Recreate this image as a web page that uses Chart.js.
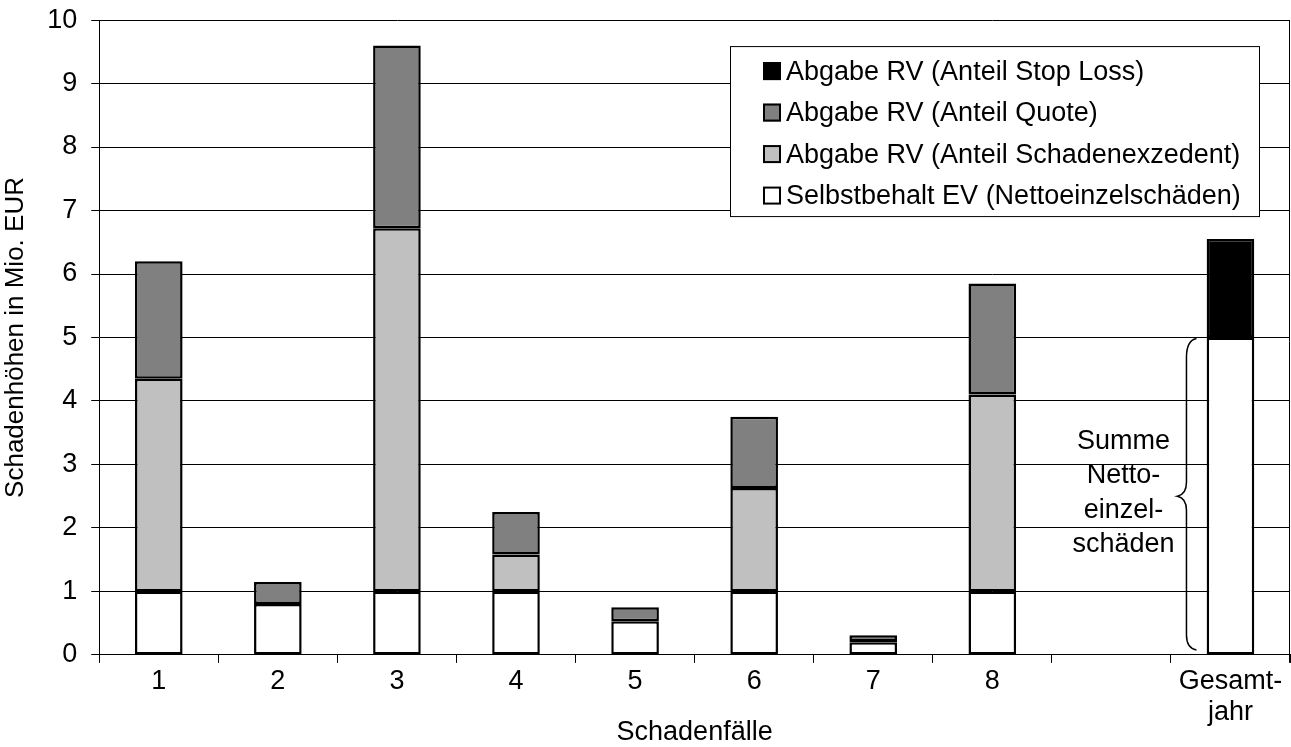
<!DOCTYPE html>
<html lang="de">
<head>
<meta charset="UTF-8">
<title>Schadenfälle</title>
<script src="https://cdn.jsdelivr.net/npm/chart.js"></script>
<style>
  html, body { margin: 0; padding: 0; background: #fff; }
  #wrap { width: 1291px; height: 747px; }
</style>
</head>
<body>
<div id="wrap"><canvas id="chart" width="1291" height="747"></canvas></div>
<script>
// Werte in Mio. EUR
const kategorien = ['1', '2', '3', '4', '5', '6', '7', '8', '', ['Gesamt-', 'jahr']];
const selbstbehalt = [1, 0.8, 1, 1, 0.53, 1, 0.2, 1, null, 5];
const schadenexzedent = [3.35, null, 5.72, 0.58, null, 1.63, 0.02, 3.1, null, null];
const quote = [1.85, 0.35, 2.88, 0.67, 0.22, 1.12, 0.09, 1.75, null, null];
const stopLoss = [null, null, null, null, null, null, null, null, null, 1.55];
const yTicks = [0, 1, 2, 3, 4, 5, 6, 7, 8, 9, 10];
const klammerText = ['Summe', 'Netto-', 'einzel-', 'schäden'];

const schrift = 'Arial, "Liberation Sans", Helvetica, sans-serif';
Chart.defaults.font.family = schrift;
Chart.defaults.font.size = 27;
Chart.defaults.color = '#000';

// Legende im Diagramm (rechts oben, mit Rahmen)
const legendeImDiagramm = {
  id: 'legendeImDiagramm',
  afterDraw(chart) {
    const ctx = chart.ctx;
    const ca = chart.chartArea;
    const x = ca.right - 560, y = ca.top + 26, w = 529, h = 170;
    ctx.save();
    ctx.fillStyle = '#fff';
    ctx.fillRect(x, y, w, h);
    ctx.strokeStyle = '#000';
    ctx.lineWidth = 1;
    ctx.strokeRect(x + 0.5, y + 0.5, w, h);
    ctx.font = '27px ' + schrift;
    ctx.textBaseline = 'middle';
    const ds = chart.data.datasets.slice().reverse();
    ds.forEach((d, i) => {
      const ry = y + 25 + i * 41.5;
      ctx.fillStyle = d.backgroundColor;
      ctx.fillRect(x + 33, ry - 9, 18, 18);
      ctx.strokeStyle = '#000';
      ctx.lineWidth = 2;
      ctx.strokeRect(x + 34, ry - 8, 16, 16);
      ctx.fillStyle = '#000';
      ctx.fillText(d.label, x + 56, ry + 1);
    });
    ctx.restore();
  }
};

// geschweifte Klammer + Text neben dem Gesamtjahr-Balken,
// dazu der Teilstrich am rechten Ende der x-Achse
const klammer = {
  id: 'klammer',
  afterDatasetsDraw(chart) {
    const ctx = chart.ctx;
    const ca = chart.chartArea;
    const xs = chart.scales.x, ys = chart.scales.y;
    const idx = kategorien.length - 1;
    const xb = xs.getPixelForValue(idx) - 44;
    const yTop = ys.getPixelForValue(selbstbehalt[idx]);
    const yBot = ys.getPixelForValue(0);
    const yMid = (yTop + yBot) / 2;
    ctx.save();
    ctx.strokeStyle = '#000';
    ctx.lineWidth = 1;
    ctx.beginPath();
    ctx.moveTo(Math.round(ca.right) - 0.5, ca.top);
    ctx.lineTo(Math.round(ca.right) - 0.5, ca.bottom + 8);
    ctx.stroke();

    ctx.lineWidth = 1.5;
    ctx.beginPath();
    ctx.moveTo(xb + 10, yTop + 1);
    ctx.quadraticCurveTo(xb, yTop + 3, xb, yTop + 20);
    ctx.lineTo(xb, yMid - 14);
    ctx.quadraticCurveTo(xb, yMid - 2, xb - 9, yMid);
    ctx.quadraticCurveTo(xb, yMid + 2, xb, yMid + 14);
    ctx.lineTo(xb, yBot - 20);
    ctx.quadraticCurveTo(xb, yBot - 7, xb + 10, yBot - 5);
    ctx.stroke();
    ctx.fillStyle = '#000';
    ctx.font = '27px ' + schrift;
    ctx.textAlign = 'center';
    ctx.textBaseline = 'middle';
    const lh = 34.3;
    const start = yMid - 3 - lh * (klammerText.length - 1) / 2;
    klammerText.forEach((t, i) => ctx.fillText(t, xb - 63, start + i * lh));
    ctx.restore();
  }
};

new Chart(document.getElementById('chart'), {
  type: 'bar',
  data: {
    labels: kategorien,
    datasets: [
      { label: 'Selbstbehalt EV (Nettoeinzelschäden)', data: selbstbehalt, backgroundColor: '#ffffff' },
      { label: 'Abgabe RV (Anteil Schadenexzedent)', data: schadenexzedent, backgroundColor: '#c0c0c0' },
      { label: 'Abgabe RV (Anteil Quote)', data: quote, backgroundColor: '#808080' },
      { label: 'Abgabe RV (Anteil Stop Loss)', data: stopLoss, backgroundColor: '#000000' }
    ]
  },
  options: {
    responsive: false,
    animation: false,
    layout: { padding: { top: 0, right: 1, bottom: 0, left: 0 } },
    datasets: {
      bar: {
        borderColor: '#000',
        borderWidth: 2.5,
        borderSkipped: false,
        barPercentage: 0.4,
        categoryPercentage: 1
      }
    },
    plugins: {
      legend: { display: false },
      tooltip: { enabled: false }
    },
    scales: {
      x: {
        stacked: true,
        grid: { offset: true, drawOnChartArea: false, tickColor: '#000', tickLength: 8, lineWidth: 1 },
        border: { color: '#000', width: 1 },
        ticks: { maxRotation: 0, autoSkip: false, padding: 3, font: { size: 27, lineHeight: 1.15 } },
        title: { display: true, text: 'Schadenfälle', font: { size: 27, lineHeight: 1 }, padding: { top: -12, bottom: 1 } }
      },
      y: {
        stacked: true,
        min: 0,
        max: 10,
        afterBuildTicks: s => { s.ticks = yTicks.map(v => ({ value: v })); },
        grid: { color: '#000', tickColor: '#000', tickLength: 8, lineWidth: 1 },
        border: { color: '#000', width: 1 },
        ticks: { padding: 14, font: { size: 27, lineHeight: 0.45 } },
        title: { display: true, text: 'Schadenhöhen in Mio. EUR', font: { size: 26 }, padding: { top: 0, bottom: 2 } }
      }
    }
  },
  plugins: [klammer, legendeImDiagramm]
});
</script>
</body>
</html>
